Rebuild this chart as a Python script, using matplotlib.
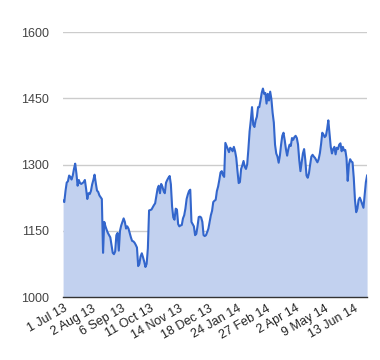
import matplotlib
matplotlib.use("Agg")
import matplotlib.pyplot as plt

plt.rcParams['font.family'] = ['Liberation Sans', 'DejaVu Sans']

# daily closing values, 1 Jul 13 .. end Jun 14
values = [
    1218, 1215, 1240, 1259, 1262, 1275, 1272, 1266, 1275, 1290,
    1302, 1280, 1252, 1265, 1258, 1256, 1258, 1260, 1265, 1245,
    1222, 1235, 1233, 1240, 1255, 1265, 1277, 1258, 1241, 1238,
    1230, 1226, 1222, 1100, 1170, 1160, 1152, 1145, 1140, 1135,
    1118, 1100, 1097, 1103, 1140, 1145, 1105, 1150, 1162, 1170,
    1178, 1170, 1155, 1160, 1155, 1145, 1135, 1127, 1126, 1123,
    1118, 1112, 1070, 1075, 1092, 1099, 1090, 1080, 1068, 1075,
    1110, 1196, 1197, 1198, 1203, 1208, 1212, 1228, 1245, 1252,
    1235, 1256, 1250, 1240, 1235, 1259, 1265, 1270, 1274, 1255,
    1205, 1180, 1175, 1200, 1198, 1165, 1160, 1162, 1163, 1178,
    1185, 1200, 1222, 1232, 1240, 1243, 1170, 1165, 1160, 1140,
    1143, 1160, 1181, 1182, 1180, 1170, 1140, 1138, 1140, 1147,
    1155, 1170, 1185, 1195, 1215, 1218, 1220, 1240, 1250, 1265,
    1282, 1285, 1276, 1272, 1349, 1342, 1335, 1328, 1338, 1335,
    1330, 1340, 1330, 1315, 1285, 1258, 1260, 1290, 1298, 1308,
    1295, 1290, 1300, 1335, 1375, 1400, 1430, 1390, 1385, 1400,
    1408, 1430, 1430, 1445, 1462, 1472, 1460, 1462, 1438, 1460,
    1445, 1465, 1448, 1417, 1395, 1345, 1325, 1318, 1304, 1320,
    1345, 1365, 1372, 1355, 1335, 1320, 1335, 1345, 1342, 1360,
    1356, 1362, 1365, 1360, 1345, 1310, 1285, 1305, 1325, 1335,
    1310, 1275, 1270, 1280, 1300, 1318, 1322, 1318, 1315, 1310,
    1305, 1312, 1325, 1346, 1372, 1368, 1362, 1365, 1380, 1400,
    1370, 1340, 1325, 1335, 1340, 1323, 1338, 1335, 1345, 1348,
    1330, 1340, 1332, 1333, 1315, 1263, 1300, 1312, 1307, 1305,
    1270, 1220, 1192, 1200, 1220, 1225, 1218, 1210, 1202, 1230,
    1260, 1275,
]
tick_labels = ["1 Jul 13", "2 Aug 13", "6 Sep 13", "11 Oct 13", "14 Nov 13",
               "18 Dec 13", "24 Jan 14", "27 Feb 14", "2 Apr 14", "9 May 14",
               "13 Jun 14"]
tick_every = 24
y_ticks = [1000, 1150, 1300, 1450, 1600]

x = list(range(len(values)))

fig = plt.figure(figsize=(3.8, 3.6), dpi=100)
ax = fig.add_axes([0.166, 0.175, 0.800, 0.736])

ax.fill_between(x, 1000, values, color='#c2d1ef', linewidth=0)
ax.plot(x, values, color='#3366cc', linewidth=1.5)

ax.set_xlim(0, len(values) - 1)
ax.set_ylim(1000, 1600)
ax.set_yticks(y_ticks)
ax.set_yticklabels([str(v) for v in y_ticks], fontsize=9, color='#444444')
ax.yaxis.grid(True, color='#cccccc', linewidth=1)
ax.set_axisbelow(True)

ticks = [i * tick_every for i in range(len(tick_labels))]
ax.set_xticks(ticks)
ax.set_xticklabels(tick_labels, fontsize=9, color='#222222', rotation=30,
                   ha='right', va='top', rotation_mode='anchor')

ax.tick_params(axis='both', length=0)
ax.tick_params(axis='y', pad=10)
ax.tick_params(axis='x', pad=4)
for s in ['top', 'right', 'left']:
    ax.spines[s].set_visible(False)
ax.spines['bottom'].set_color('#333333')
ax.spines['bottom'].set_linewidth(1)
ax.spines['bottom'].set_zorder(5)

fig.savefig('out.png', dpi=100)
